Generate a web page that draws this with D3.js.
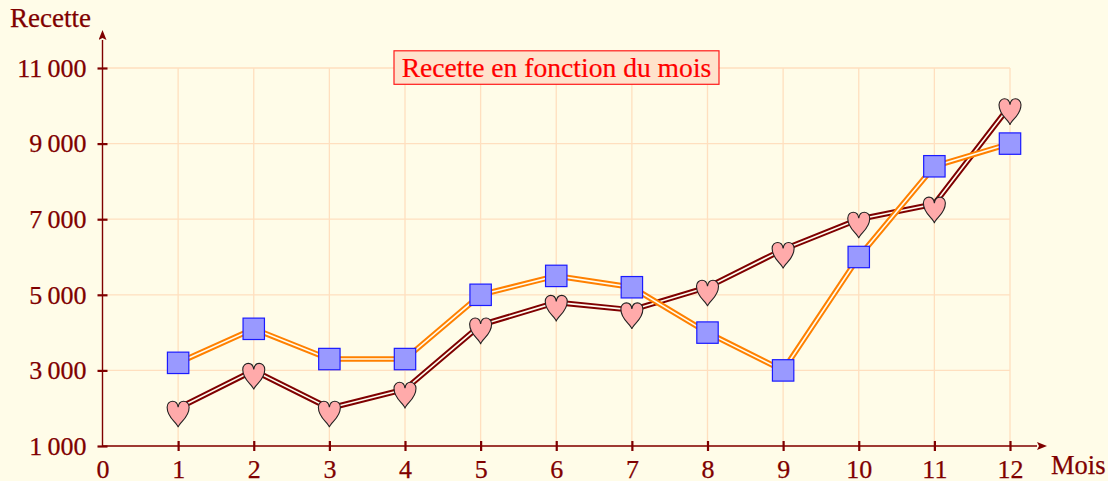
<!DOCTYPE html>
<html>
<head>
<meta charset="utf-8">
<script src="https://cdn.jsdelivr.net/npm/d3@7"></script>
<style>
body { margin: 0; background: #fffce8; }
svg { display: block; }
text { font-family: "Liberation Serif", serif; }
</style>
</head>
<body>
<svg id="chart" width="1108" height="481"></svg>
<script>
var months = [1, 2, 3, 4, 5, 6, 7, 8, 9, 10, 11, 12];
var xTicks = [0, 1, 2, 3, 4, 5, 6, 7, 8, 9, 10, 11, 12];
var yTicks = [1000, 3000, 5000, 7000, 9000, 11000];
var recetteA = [3200, 4100, 3300, 3300, 5000, 5500, 5200, 4000, 3000, 6000, 8400, 9000];
var recetteB = [2000, 3000, 2000, 2500, 4200, 4800, 4600, 5200, 6200, 7000, 7400, 10000];
var title = "Recette en fonction du mois";

var dark = "#7f0000";
var svg = d3.select("#chart");

var x = d3.scaleLinear().domain([0, 12]).range([102.5, 1010]);
var y = d3.scaleLinear().domain([1000, 11000]).range([446, 68]);

var fr = d3.formatLocale({ decimal: ",", thousands: "\u2009", grouping: [3], currency: ["", " €"] });

// grid
var grid = svg.append("g").attr("stroke", "#ffdfbf").attr("stroke-width", 1.3);
grid.selectAll(".v").data(months).enter().append("line")
  .attr("x1", function(d) { return x(d); })
  .attr("x2", function(d) { return x(d); })
  .attr("y1", y(1000))
  .attr("y2", y(11000));
grid.selectAll(".h").data(yTicks).enter().append("line")
  .attr("x1", x(0))
  .attr("x2", x(12))
  .attr("y1", function(d) { return y(d); })
  .attr("y2", function(d) { return y(d); });

// axes
var xAxis = svg.append("g")
  .attr("transform", "translate(0," + y(1000) + ")")
  .call(d3.axisBottom(x).tickValues(xTicks).tickFormat(d3.format("d")).tickSizeOuter(0));
var yAxis = svg.append("g")
  .attr("transform", "translate(" + x(0) + ",0)")
  .call(d3.axisLeft(y).tickValues(yTicks).tickFormat(fr.format(",d")).tickSizeOuter(0));

xAxis.select(".domain").remove();
yAxis.select(".domain").remove();
xAxis.selectAll(".tick line").attr("y1", -5).attr("y2", 5).attr("stroke", dark).attr("stroke-width", 2.2);
yAxis.selectAll(".tick line").attr("x1", -5).attr("x2", 5).attr("stroke", dark).attr("stroke-width", 2.2);
xAxis.selectAll(".tick text").attr("y", 14).attr("fill", dark).attr("stroke", dark).attr("stroke-width", 0.25)
  .attr("font-size", 26).attr("font-family", "Liberation Serif");
yAxis.selectAll(".tick text").attr("x", -16).attr("fill", dark).attr("stroke", dark).attr("stroke-width", 0.25)
  .attr("font-size", 26).attr("font-family", "Liberation Serif");
xAxis.selectAll(".tick").filter(function(d) { return d === 0; }).select("line").remove();

svg.append("defs").append("marker")
  .attr("id", "arrow")
  .attr("viewBox", "0 0 10 8")
  .attr("refX", 0).attr("refY", 4)
  .attr("markerWidth", 10).attr("markerHeight", 8)
  .attr("markerUnits", "userSpaceOnUse")
  .attr("orient", "auto")
  .append("path").attr("d", "M0,0L10,4L0,8L2,4Z").attr("fill", dark);

svg.append("line")
  .attr("x1", x(0) - 0).attr("x2", 1037)
  .attr("y1", y(1000)).attr("y2", y(1000))
  .attr("stroke", dark).attr("stroke-width", 1.4)
  .attr("marker-end", "url(#arrow)");
svg.append("line")
  .attr("x1", x(0)).attr("x2", x(0))
  .attr("y1", y(1000)).attr("y2", 40)
  .attr("stroke", dark).attr("stroke-width", 1.4)
  .attr("marker-end", "url(#arrow)");

svg.append("text").attr("x", 10).attr("y", 27).attr("fill", dark).attr("stroke", dark).attr("stroke-width", 0.25)
  .attr("font-size", 27).text("Recette");
svg.append("text").attr("x", 1051).attr("y", 474).attr("fill", dark).attr("stroke", dark).attr("stroke-width", 0.25)
  .attr("font-size", 26.5).text("Mois");

// title box
var tb = svg.append("g");
tb.append("rect")
  .attr("x", 394).attr("y", 50.8).attr("width", 325).attr("height", 33.5)
  .attr("fill", "#ffe2cc").attr("stroke", "#ff1a1a").attr("stroke-width", 1.2);
tb.append("text")
  .attr("x", 556.5).attr("y", 77)
  .attr("text-anchor", "middle")
  .attr("fill", "#ff0000").attr("stroke", "#ff0000").attr("stroke-width", 0.2)
  .attr("font-size", 27.6)
  .text(title);

var line = d3.line()
  .x(function(d) { return x(d[0]); })
  .y(function(d) { return y(d[1]); });

function drawDouble(values, color) {
  var pts = d3.zip(months, values);
  svg.append("path").datum(pts).attr("d", line).attr("fill", "none")
    .attr("stroke", color).attr("stroke-width", 5.6).attr("stroke-linejoin", "miter");
  svg.append("path").datum(pts).attr("d", line).attr("fill", "none")
    .attr("stroke", "#fffdf0").attr("stroke-width", 1.6).attr("stroke-linejoin", "miter");
}

drawDouble(recetteB, "#7f0000");
drawDouble(recetteA, "#ff8000");

// heart markers, path is relative to the data point
var heart = "M0,19 C-1,14 -11,10 -11,-1 C-11,-5 -8,-7 -5.5,-7 C-3,-7 -0.5,-5 0,-1 C0.5,-5 3,-7 5.5,-7 C8,-7 11,-5 11,-1 C11,10 1,14 0,19 Z";
svg.append("g").selectAll("path")
  .data(d3.zip(months, recetteB))
  .enter().append("path")
  .attr("d", heart)
  .attr("transform", function(d) { return "translate(" + x(d[0]) + "," + y(d[1]) + ")"; })
  .attr("fill", "#ffaaaa")
  .attr("stroke", "#222")
  .attr("stroke-width", 1.1);

svg.append("g").selectAll("rect")
  .data(d3.zip(months, recetteA))
  .enter().append("rect")
  .attr("x", function(d) { return x(d[0]) - 10.7; })
  .attr("y", function(d) { return y(d[1]) - 10.7; })
  .attr("width", 21.4)
  .attr("height", 21.4)
  .attr("fill", "#9999ff")
  .attr("stroke", "#1a1aff")
  .attr("stroke-width", 1.2);
</script>
</body>
</html>
